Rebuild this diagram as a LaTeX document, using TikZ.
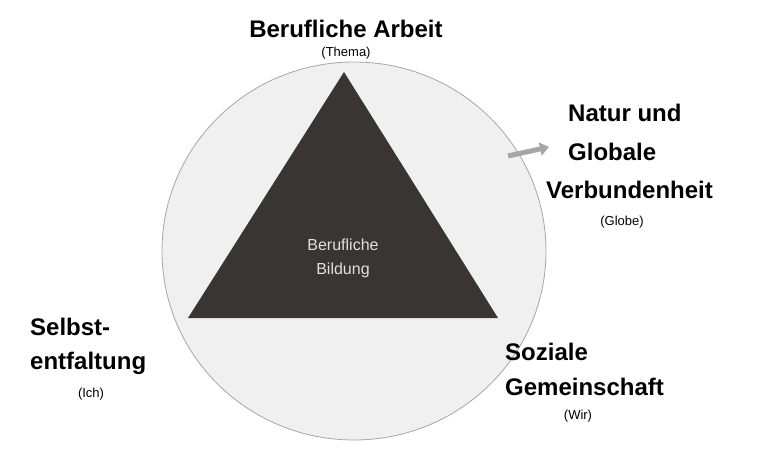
\documentclass[tikz,border=0pt]{standalone}
\usepackage{fontspec}
\setmainfont{Liberation Sans}
\usetikzlibrary{arrows.meta}
\begin{document}
\begin{tikzpicture}[x=1pt,y=-1pt,
 big/.style={font=\fontsize{24}{28}\selectfont\bfseries, inner sep=0},
 small/.style={font=\fontsize{13}{15}\selectfont, inner sep=0}]
\useasboundingbox (0,0) rectangle (766,450);
\draw[draw=gray!70, fill=black!6, line width=0.8pt] (354,251) ellipse [x radius=192, y radius=189];
\fill[fill={rgb,255:red,58;green,53;blue,53}] (344,72) coordinate (apex) -- (188,318) coordinate (bl) -- (498,318) coordinate (br) -- cycle;
\node[align=center, text=black!12, font=\fontsize{16}{24}\selectfont, inner sep=0] (center) at (343,258) {Berufliche\\Bildung};
\node[big] (arbeit) at (346,29) {Berufliche Arbeit};
\node[small] (thema) at (346,53) {(Thema)};
\node[big, anchor=west] (natur) at (568,113) {Natur und};
\node[big, anchor=west] (globale) at (568,152) {Globale};
\node[big, anchor=west] (verb) at (546,190) {Verbundenheit};
\node[small] (globe) at (622,222) {(Globe)};
\coordinate (as) at (508,156);
\draw[-{Triangle[length=9pt,width=13pt]}, line width=5pt, gray!70] (as) -- (549,147);
\node[big, anchor=west] (selbst) at (30,327) {Selbst-};
\node[big, anchor=west] (entf) at (30,363) {entfaltung};
\node[small] (ich) at (91,394) {(Ich)};
\node[big, anchor=west] (soz) at (505,352) {Soziale};
\node[big, anchor=west] (gem) at (505,387) {Gemeinschaft};
\node[small] (wir) at (578,416) {(Wir)};
\end{tikzpicture}
\end{document}
